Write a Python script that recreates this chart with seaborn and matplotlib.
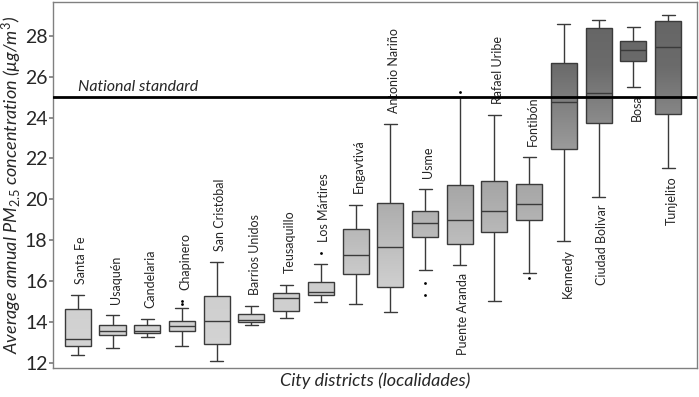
import numpy as np
import pandas as pd
import seaborn as sns
import matplotlib.pyplot as plt
from matplotlib.colors import LinearSegmentedColormap, Normalize

# summary stats (ug/m3)
districts = ["Santa Fe", "Usaquén", "Candelaria", "Chapinero", "San Cristóbal",
             "Barrios Unidos", "Teusaquillo", "Los Mártires", "Engavtivá",
             "Antonio Nariño", "Usme", "Puente Aranda", "Rafael Uribe", "Fontibón",
             "Kennedy", "Ciudad Bolivar", "Bosa", "Tunjelito"]
whisker_low = [12.38, 12.73, 13.29, 12.83, 12.08, 13.87, 14.19, 14.98, 14.89,
               14.51, 16.52, 16.78, 15.05, 16.39, 17.97, 20.11, 25.49, 21.51]
q1 = [12.85, 13.37, 13.45, 13.55, 12.91, 14.00, 14.54, 15.31, 16.35,
      15.70, 18.16, 17.81, 18.38, 18.98, 22.47, 23.73, 26.76, 24.15]
median = [13.19, 13.55, 13.57, 13.79, 14.07, 14.10, 15.19, 15.47, 17.28,
          17.68, 18.83, 19.00, 19.44, 19.76, 24.74, 25.19, 27.28, 27.47]
q3 = [14.63, 13.83, 13.83, 14.04, 15.26, 14.40, 15.41, 15.95, 18.57,
      19.84, 19.42, 20.72, 20.89, 20.74, 26.66, 28.37, 27.73, 28.73]
whisker_high = [15.31, 14.35, 14.14, 14.69, 16.94, 14.79, 15.83, 16.83, 19.74,
                23.69, 20.51, 25.00, 24.13, 22.08, 28.55, 28.78, 28.45, 28.99]
label_side = ["above"] * 11 + ["below", "above", "above", "below", "below", "below", "below"]

outlier_district = ["Chapinero", "Chapinero", "Los Mártires", "Usme", "Usme",
                    "Puente Aranda", "Fontibón"]
outlier_value = [14.90, 15.02, 17.37, 15.93, 15.33, 25.26, 16.14]

national_standard = 25

# five points per district reproduce the box exactly (25/50/75 percentiles)
rows = []
for i, d in enumerate(districts):
    for v in (whisker_low[i], q1[i], median[i], q3[i], whisker_high[i]):
        rows.append({"district": d, "value": v})
box_df = pd.DataFrame(rows)
out_df = pd.DataFrame({"district": outlier_district, "value": outlier_value})

sns.set_theme(style="white")
plt.rcParams["font.family"] = ["Lato", "DejaVu Sans"]
plt.rcParams["mathtext.fontset"] = "custom"
plt.rcParams["mathtext.rm"] = "Lato"
plt.rcParams["mathtext.it"] = "Lato:italic"
plt.rcParams["mathtext.sf"] = "Lato"

fig, ax = plt.subplots(figsize=(6.99, 3.97), dpi=100)
fig.subplots_adjust(left=0.076, right=0.997, top=0.995, bottom=0.073)

sns.boxplot(data=box_df, x="district", y="value", order=districts, whis=(0, 100),
            width=0.75, color="white", linecolor="#3a3a3a", linewidth=1.0,
            showfliers=False, ax=ax)
sns.stripplot(data=out_df, x="district", y="value", order=districts, jitter=False,
              color="black", size=2.0, ax=ax, zorder=4)

xlim = (-0.71, 17.83)
ylim = (11.75, 29.65)

# vertical grey gradient, darker towards high concentrations
def frac(v):
    return (v - ylim[0]) / (ylim[1] - ylim[0])

cmap = LinearSegmentedColormap.from_list("pm", [
    (0.0, "#d6d6d6"), (frac(16), "#cdcdcd"), (frac(20), "#ababab"),
    (frac(22.5), "#9a9a9a"), (frac(26.5), "#6b6b6b"), (1.0, "#636363")])
grad = np.linspace(ylim[0], ylim[1], 256).reshape(-1, 1)
for patch in list(ax.patches):
    patch.set_facecolor("none")
    im = ax.imshow(grad, cmap=cmap, norm=Normalize(ylim[0], ylim[1]),
                   extent=(xlim[0], xlim[1], ylim[0], ylim[1]), origin="lower",
                   aspect="auto", zorder=patch.get_zorder() - 0.1)
    im.set_clip_path(patch)

ax.axhline(national_standard, color="black", lw=2, zorder=5)
ax.text(0, national_standard + 0.32, "National standard", fontsize=11.5,
        style="italic", ha="left", va="baseline")

for i, d in enumerate(districts):
    if label_side[i] == "above":
        top = max([whisker_high[i]] + [v for k, v in zip(outlier_district, outlier_value) if k == d])
        ax.text(i + 0.1, top + 0.55, d, rotation=90, ha="center", va="bottom", fontsize=9)
    else:
        ax.text(i + 0.1, whisker_low[i] - 0.38, d, rotation=90, ha="center", va="top", fontsize=9)

ax.set_xlim(*xlim)
ax.set_ylim(*ylim)
ax.set_yticks(range(12, 29, 2))
ax.set_xticks([])
ax.tick_params(axis="y", labelsize=14, left=True, length=3, color="#808080", pad=1)
for s in ax.spines.values():
    s.set_color("#808080")
    s.set_linewidth(1)

ax.set_xlabel("City districts (localidades)", fontsize=13, style="italic", labelpad=3)
ax.set_ylabel(r"Average annual PM$_{\mathit{2.5}}$ concentration (µg/m$^{\mathit{3}}$)",
              fontsize=13, style="italic", labelpad=1)

fig.savefig("out.png", dpi=100)
